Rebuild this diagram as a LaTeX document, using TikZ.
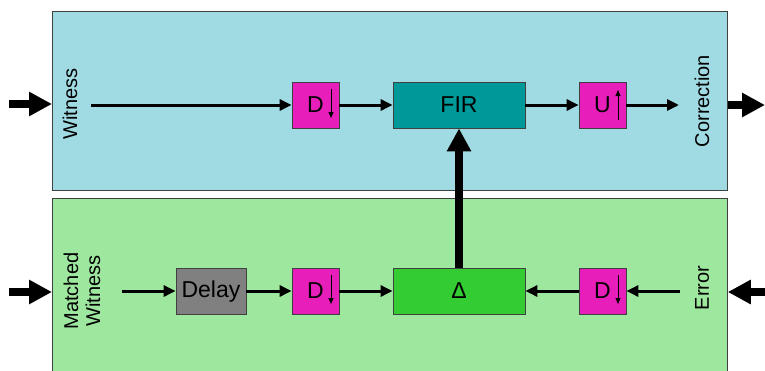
\documentclass[tikz,border=0pt]{standalone}
\usepackage{fontspec}
\setmainfont{Liberation Sans}
\usetikzlibrary{arrows.meta}
\definecolor{panelblue}{RGB}{160,218,226}
\definecolor{panelgreen}{RGB}{158,231,158}
\definecolor{magbox}{RGB}{232,30,186}
\definecolor{tealbox}{RGB}{0,153,153}
\definecolor{greenbox}{RGB}{51,204,51}
\definecolor{graybox}{RGB}{128,128,128}
\definecolor{edgegray}{RGB}{64,64,64}
\tikzset{
  panel/.style={draw=edgegray, line width=0.8pt, inner sep=0pt, anchor=north west},
  blockbox/.style={draw=edgegray, line width=0.8pt, inner sep=0pt, minimum height=46pt, font=\fontsize{23}{25}\selectfont},
  sqbox/.style={blockbox, fill=magbox, minimum width=47pt},
  widebox/.style={blockbox, minimum width=132pt},
  sidelabel/.style={rotate=90, font=\fontsize{20}{22}\selectfont, align=center, inner sep=0pt},
  thin/.style={line width=3pt, -{Triangle[length=12pt,width=11pt]}},
  thick/.style={line width=8.5pt, -{Triangle[length=23pt,width=23pt]}},
  tiny/.style={line width=1pt, -{Triangle[length=6pt,width=5pt]}}
}
\begin{document}
\begin{tikzpicture}[x=1pt,y=-1pt]
\useasboundingbox (0,0) rectangle (765,370);
\clip (0,0) rectangle (765,370);
% panels
\node[panel, fill=panelblue, minimum width=675pt, minimum height=179pt] (top) at (52,11) {};
\node[panel, fill=panelgreen, minimum width=675pt, minimum height=190pt] (bot) at (52,198) {};
% top row
\node[sidelabel] (witness) at (70,104) {Witness};
\node[sidelabel] (correction) at (702,101) {Correction};
\node[sqbox] (d1) at (315.5,105) {D\hspace{9pt}};
\node[widebox, fill=tealbox] (fir) at (459,105) {FIR};
\node[sqbox] (u1) at (602.5,105) {U\hspace{9pt}};
\coordinate (wstart) at (91,105);
\coordinate (cend) at (679,105);
\draw[thin] (wstart) -- (d1.west);
\draw[thin] (d1.east) -- (fir.west);
\draw[thin] (fir.east) -- (u1.west);
\draw[thin] (u1.east) -- (cend);
\draw[tiny] ([xshift=15.5pt,yshift=16pt]d1.center) coordinate (d1a) -- ([xshift=15.5pt,yshift=-13pt]d1.center) coordinate (d1b);
\draw[tiny] ([xshift=15.5pt,yshift=-15pt]u1.center) coordinate (u1a) -- ([xshift=15.5pt,yshift=15pt]u1.center) coordinate (u1b);
% bottom row
\node[sidelabel] (matched) at (82,291) {Matched\\Witness};
\node[sidelabel] (error) at (702,288) {Error};
\node[blockbox, fill=graybox, minimum width=70pt] (delay) at (211,291.5) {Delay};
\node[sqbox] (d2) at (315.5,291) {D\hspace{9pt}};
\node[widebox, fill=greenbox] (delta) at (459,291) {Δ};
\node[sqbox] (d3) at (602.5,291) {D\hspace{9pt}};
\coordinate (mstart) at (122,291);
\coordinate (estart) at (680,291);
\draw[thin] (mstart) -- (mstart -| delay.west);
\draw[thin] (delay.east |- d2.west) -- (d2.west);
\draw[thin] (d2.east) -- (delta.west);
\draw[thin] (d3.west) -- (delta.east);
\draw[thin] (estart) -- (d3.east);
\draw[tiny] ([xshift=15.5pt,yshift=16pt]d2.center) coordinate (d2a) -- ([xshift=15.5pt,yshift=-13pt]d2.center) coordinate (d2b);
\draw[tiny] ([xshift=15.5pt,yshift=16pt]d3.center) coordinate (d3a) -- ([xshift=15.5pt,yshift=-13pt]d3.center) coordinate (d3b);
% vertical feedback
\draw[thick] (delta.north) -- (fir.south);
% external arrows
\coordinate (inTL) at (9,104);
\coordinate (inBL) at (9,292);
\coordinate (outTR) at (765,105);
\coordinate (inBR) at (765,292);
\draw[thick] (inTL) -- (inTL -| top.west);
\draw[thick] (inBL) -- (inBL -| bot.west);
\draw[thick] (outTR -| top.east) -- (outTR);
\draw[thick] (inBR) -- (inBR -| bot.east);
\end{tikzpicture}
\end{document}
